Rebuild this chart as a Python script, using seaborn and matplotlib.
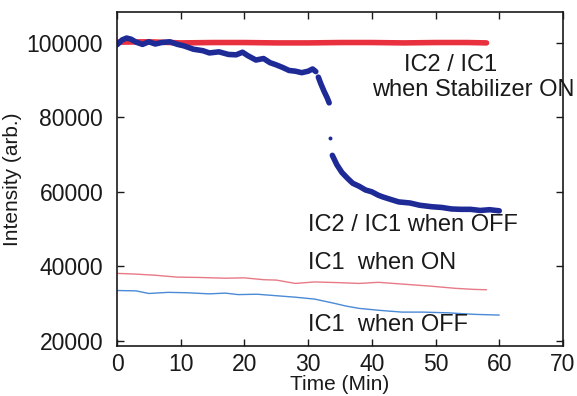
import numpy as np
import pandas as pd
import matplotlib
matplotlib.use("Agg")
import matplotlib.pyplot as plt
import seaborn as sns

# ---- data ----
ratio_off_t1 = [0, 0.8, 1.5, 2.2, 3, 4, 5, 6, 7, 8.3, 9.5, 10.5, 12, 13.5, 14.5, 16, 17.5,
                18.7, 19.7, 20.5, 21.8, 23, 24, 25, 26, 27, 28, 29, 30, 30.7, 31.2]
ratio_off_v1 = [99500, 100800, 101300, 101000, 100200, 99600, 100300, 99700, 100100, 100300,
                99600, 99200, 98300, 97900, 97300, 97600, 96900, 96800, 97500, 96600, 95400,
                95800, 94700, 94100, 93400, 92600, 92400, 92000, 92400, 93000, 92300]
ratio_off_t2 = [31.6, 32.0, 32.5, 33.0, 33.3]
ratio_off_v2 = [90800, 89000, 87000, 85200, 83900]
ratio_off_t_dot = [33.5]
ratio_off_v_dot = [74500]
ratio_off_t3 = [33.8, 34.5, 35.3, 36.2, 37, 38, 39, 40, 41, 41.6, 42.5, 44.2, 46, 47.5,
                49.4, 51, 52.5, 54, 55.5, 57, 58.5, 60]
ratio_off_v3 = [69800, 67300, 65200, 63600, 62300, 61500, 60500, 60000, 59100, 58700, 58200,
                57300, 57000, 56400, 56000, 55800, 55400, 55300, 55300, 55000, 55200, 54900]

ratio_on_t = [0, 5, 10, 15, 20, 25, 30, 35, 40, 45, 50, 55, 58]
ratio_on_v = [100200, 100300, 100000, 100100, 100100, 100000, 100000, 100100, 100100,
              100000, 100100, 100100, 100000]

ic1_on_t = [0, 3, 6, 9.4, 13, 17, 20, 23, 25, 28, 31, 35, 38, 41, 45, 49, 53, 56, 58]
ic1_on_v = [38100, 37900, 37600, 37100, 37000, 36800, 36900, 36400, 36300, 35400, 35800,
            35600, 35400, 35700, 35200, 34700, 34100, 33800, 33700]

ic1_off_t = [0, 3, 5, 8, 11, 14.5, 17, 19, 22, 25, 28, 31, 34, 36, 38, 41, 44.7, 48, 52, 56, 60]
ic1_off_v = [33500, 33400, 32700, 33000, 32900, 32600, 32800, 32400, 32500, 32100, 31700,
             31200, 30100, 29300, 28700, 28200, 27700, 27700, 27500, 27100, 26900]

x_ticks = [0, 10, 20, 30, 40, 50, 60, 70]
y_ticks = [20000, 40000, 60000, 80000, 100000]

sns.set_style("ticks")
plt.rcParams['font.family'] = ['Liberation Sans', 'DejaVu Sans']
plt.rcParams['xtick.direction'] = 'in'
plt.rcParams['ytick.direction'] = 'in'

fig = plt.figure(figsize=(5.77, 3.96), dpi=100)
ax = fig.add_axes([0.2028, 0.1263, 0.7729, 0.8434])

red_thick = '#e8303f'
blue_thick = '#1e2a96'
red_thin = '#e87a86'
blue_thin = '#4a8ad6'
ink = '#1a1a1a'

sns.lineplot(x=ic1_on_t, y=ic1_on_v, ax=ax, color=red_thin, lw=1.0)
sns.lineplot(x=ic1_off_t, y=ic1_off_v, ax=ax, color=blue_thin, lw=1.0)
sns.lineplot(x=ratio_on_t, y=ratio_on_v, ax=ax, color=red_thick, lw=4.0)
for t, v in [(ratio_off_t1, ratio_off_v1), (ratio_off_t2, ratio_off_v2), (ratio_off_t3, ratio_off_v3)]:
    sns.lineplot(x=t, y=v, ax=ax, color=blue_thick, lw=4.0)
sns.scatterplot(x=ratio_off_t_dot, y=ratio_off_v_dot, ax=ax, color=blue_thick, s=8, linewidth=0)

ax.set_xlim(0, 70)
ax.set_ylim(18600, 108300)
ax.set_xticks(x_ticks)
ax.set_yticks(y_ticks)
ax.set_xticklabels([str(v) for v in x_ticks], fontsize=16.5)
ax.set_yticklabels([str(v) for v in y_ticks], fontsize=16.5)
ax.tick_params(which='both', direction='in', top=True, right=True, length=5, width=1.0,
               colors=ink)
ax.tick_params(axis='y', pad=10)
ax.tick_params(axis='x', pad=5)
for s in ax.spines.values():
    s.set_color(ink)
    s.set_linewidth(1.2)
ax.set_xlabel("Time (Min)", fontsize=15, labelpad=-1, color=ink)
ax.set_ylabel("Intensity (arb.)", fontsize=15, labelpad=3, color=ink)

txt = dict(fontsize=17, color=ink)
ax.text(52.3, 94100, "IC2 / IC1", ha='center', va='center', **txt)
ax.text(40.0, 87400, "when Stabilizer ON", ha='left', va='center', **txt)
ax.text(30, 51100, "IC2 / IC1 when OFF", ha='left', va='center', **txt)
ax.text(30, 40900, "IC1  when ON", ha='left', va='center', **txt)
ax.text(30, 24300, "IC1  when OFF", ha='left', va='center', **txt)

fig.savefig("out.png", dpi=100)
